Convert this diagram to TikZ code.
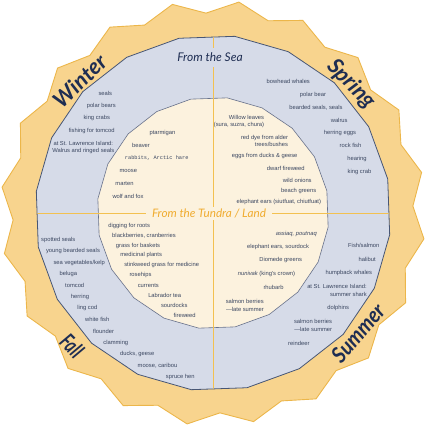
\documentclass[tikz,border=0pt]{standalone}
\usepackage{fontspec}
\setmainfont{Liberation Sans}
\newfontfamily\monof{Liberation Mono}
\newfontfamily\scriptf{Lato}
\definecolor{orfill}{RGB}{248,212,142}
\definecolor{ordraw}{RGB}{236,182,74}
\definecolor{bluefill}{RGB}{214,219,232}
\definecolor{bluedraw}{RGB}{72,86,116}
\definecolor{creamfill}{RGB}{252,242,222}
\definecolor{creamdraw}{RGB}{104,114,140}
\definecolor{crossc}{RGB}{243,193,80}
\definecolor{txt}{RGB}{58,70,96}
\definecolor{navy}{RGB}{30,45,82}
\definecolor{orlabel}{RGB}{240,172,48}
\tikzset{
  itm/.style={font=\fontsize{5.8}{7}\selectfont, text=txt, inner sep=0pt, align=center},
  itmr/.style={itm, align=right, anchor=east},
  season/.style={font=\scriptf\bfseries\itshape\fontsize{22}{24}\selectfont, text=navy, inner sep=0pt},
  crossline/.style={draw=crossc, line width=1pt}
}
\begin{document}
\begin{tikzpicture}[x=1pt,y=-1pt]
\useasboundingbox (0,0) rectangle (426,426);
% outer star
\path[fill=orfill, draw=ordraw, line width=0.9pt, line join=miter]
  plot[samples at={0,...,39}] ({213+(206.25-6.25*cos(180*\x))*cos(2+9*\x)},{213-(206.25-6.25*cos(180*\x))*sin(2+9*\x)}) -- cycle;
% blue polygon
\path[fill=bluefill, draw=bluedraw, line width=0.8pt]
  plot[samples at={0,...,19}] ({213+178*cos(11+18*\x)},{213-178*sin(11+18*\x)}) -- cycle;
% cream polygon
\path[fill=creamfill, draw=creamdraw, line width=0.6pt]
  plot[samples at={0,...,19}] ({213+116*cos(11+18*\x)},{213-116*sin(11+18*\x)}) -- cycle;
% cross lines
\begin{scope}
\clip plot[samples at={0,...,19}] ({213+177.6*cos(11+18*\x)},{213-177.6*sin(11+18*\x)}) -- cycle;
\coordinate (ctop) at (213,0);
\coordinate (cbot) at (213,426);
\coordinate (cleft) at (0,213);
\coordinate (cright) at (426,213);
\draw[crossline] (ctop) -- (cbot);
\draw[crossline] (cleft) -- (cright);
\end{scope}
% section labels
\node[fill=bluefill, inner xsep=2pt, inner ysep=5pt, text=navy, font=\scriptf\itshape\fontsize{12}{13}\selectfont] (sea) at (210,57.5) {From the Sea};
\node[fill=creamfill, inner xsep=6pt, inner ysep=2pt, text=orlabel, font=\scriptf\itshape\fontsize{11.7}{12}\selectfont] (land) at (209,213.5) {From the Tundra / Land};
% seasons
\node[season, rotate=45] (winter) at (80,81) {Winter};
\node[season, rotate=-46] (spring) at (351,84) {Spring};
\node[season, rotate=-45] (fall) at (72,346) {\scalebox{0.7}[1]{Fall}};
\node[season, rotate=49] (summer) at (358,333) {\scalebox{0.9}[1]{Summer}};
% winter sea
\node[itm] (w1) at (105.3,93.3) {seals};
\node[itm] (w2) at (101.3,106) {polar bears};
\node[itm] (w3) at (96.8,118.3) {king crabs};
\node[itm] (w4) at (91.7,131) {fishing for tomcod};
\node[itm, font=\fontsize{5.8}{6.6}\selectfont] (w5) at (83.3,147.5) {at St. Lawrence Island:\\Walrus and ringed seals};
% winter land
\node[itm] (wl1) at (162.5,133.3) {ptarmigan};
\node[itm] (wl2) at (141,145.7) {beaver};
\node[itm, font=\monof\fontsize{5.3}{6}\selectfont] (wl3) at (156.7,158.3) {rabbits, Arctic hare};
\node[itm] (wl4) at (128.3,171) {moose};
\node[itm] (wl5) at (124.5,184) {marten};
\node[itm] (wl6) at (128,196.7) {wolf and fox};
% spring sea
\node[itm] (s1) at (288.3,81.3) {bowhead whales};
\node[itm] (s2) at (313,94.7) {polar bear};
\node[itm] (s3) at (316,107.7) {bearded seals, seals};
\node[itm] (s4) at (339.2,120) {walrus};
\node[itm] (s5) at (340,133) {herring eggs};
\node[itm] (s6) at (350.5,145.7) {rock fish};
\node[itm] (s7) at (357,159) {hearing};
\node[itm] (s8) at (359.5,171.7) {king crab};
% spring land
\node[itmr] (sl1) at (264.3,121.3) {Willow leaves\\(sura, suzra, chura)};
\node[itmr] (sl2) at (288.3,140.8) {red dye from alder\\trees/bushes};
\node[itm] (sl3) at (264.7,155.7) {eggs from ducks \& geese};
\node[itm] (sl4) at (285.8,168.3) {dwarf fireweed};
\node[itm] (sl5) at (297.3,180) {wild onions};
\node[itm] (sl6) at (298.7,191) {beach greens};
\node[itm] (sl7) at (278.8,202.3) {elephant ears (siutfuat, chiutfuat)};
% fall sea
\node[itm] (f1) at (58.3,239.7) {spotted seals};
\node[itm] (f2) at (73,251.3) {young bearded seals};
\node[itm] (f3) at (79.2,263) {sea vegetables/kelp};
\node[itm] (f4) at (68.3,274) {beluga};
\node[itm] (f5) at (74.7,285.3) {tomcod};
\node[itm] (f6) at (80,297) {herring};
\node[itm] (f7) at (87.3,308.3) {ling cod};
\node[itm] (f8) at (97.2,319.7) {white fish};
\node[itm] (f9) at (103.5,331.3) {flounder};
\node[itm] (f10) at (115.8,343) {clamming};
\node[itm] (f11) at (137.2,354.3) {ducks, geese};
\node[itm] (f12) at (157.5,365.7) {moose, caribou};
\node[itm] (f13) at (180.3,377) {spruce hen};
% fall land
\node[itm] (fl1) at (129.2,225.7) {digging for roots};
\node[itm] (fl2) at (144,235.7) {blackberries, cranberries};
\node[itm] (fl3) at (138,245.7) {grass for baskets};
\node[itm] (fl4) at (141.2,255.3) {medicinal plants};
\node[itm] (fl5) at (161.7,265.3) {stinkweed grass for medicine};
\node[itm] (fl6) at (140.5,275.3) {rosehips};
\node[itm] (fl7) at (148.3,285.3) {currents};
\node[itm] (fl8) at (164.7,295.3) {Labrador tea};
\node[itm] (fl9) at (174.3,305.3) {sourdocks};
\node[itm] (fl10) at (184.7,315.3) {fireweed};
% summer land
\node[itm] (ul1) at (296.3,233.7) {\itshape assiaq, poutnaq};
\node[itm] (ul2) at (278,246.7) {elephant ears, sourdock};
\node[itm] (ul3) at (280.7,260.3) {Diomede greens};
\node[itm] (ul4) at (266.5,274) {\itshape nunivak\upshape{} (king's crown)};
\node[itm] (ul5) at (273.5,287) {rhubarb};
\node[itmr, font=\fontsize{5.8}{8}\selectfont] (ul6) at (264,305.3) {salmon berries\\—late summer};
% summer sea
\node[itm] (u1) at (363.8,245.7) {Fish/salmon};
\node[itm] (u2) at (367.2,259.7) {halibut};
\node[itm] (u3) at (348.8,273) {humpback whales};
\node[itmr, font=\fontsize{5.8}{7.7}\selectfont] (u4) at (367,290.2) {at St. Lawrence Island:\\summer shark};
\node[itm] (u5) at (338.2,308) {dolphins};
\node[itmr, font=\fontsize{5.8}{8}\selectfont] (u6) at (332.3,325.7) {salmon berries\\—late summer};
\node[itm] (u7) at (298.8,343) {reindeer};
\end{tikzpicture}
\end{document}
